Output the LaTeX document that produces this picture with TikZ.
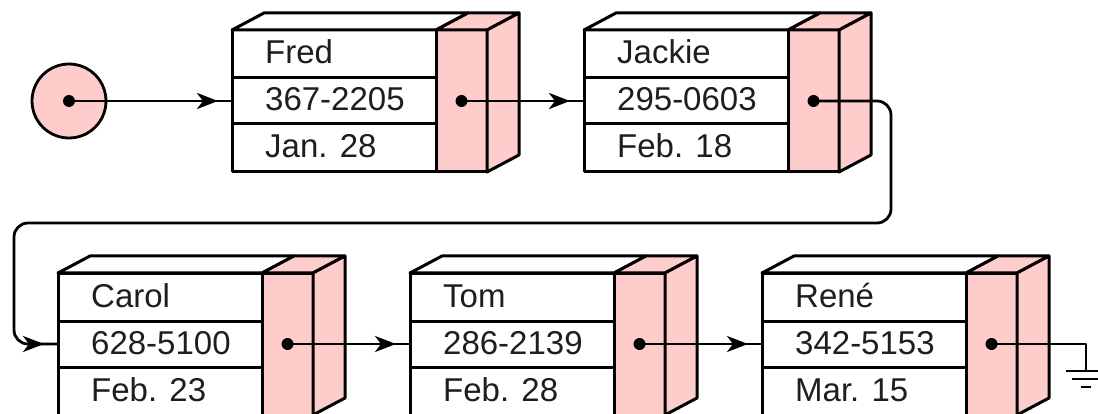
\documentclass[tikz,border=0pt]{standalone}
\usepackage{fontspec}
\setmainfont{Liberation Sans}
\usetikzlibrary{arrows.meta,decorations.markings}
\definecolor{cellpink}{RGB}{255,204,204}
\definecolor{ink}{RGB}{30,30,30}
\tikzset{
  face/.style={draw, line width=3pt, line join=round},
  whitecell/.style={face, fill=white, minimum width=204pt, minimum height=142pt, inner sep=0pt, outer sep=0pt},
  pinkcell/.style={face, fill=cellpink, minimum width=51pt, minimum height=142pt, inner sep=0pt, outer sep=0pt},
  field/.style={anchor=base west, inner sep=0pt, text=ink, font=\fontsize{33pt}{36pt}\selectfont},
  dot/.style={circle, fill=black, inner sep=0pt, minimum size=12pt},
  wire/.style={line width=2.8pt, line join=round},
  link/.style={wire, postaction={decorate},
    decoration={markings, mark=at position -14pt with {\arrow{Stealth[length=21pt,width=16pt,inset=6pt]}}}}
}
% one record: name, x, top y, name field, phone field, date field
\newcommand\record[6]{%
  \node[whitecell, anchor=north west] (#1) at (#2,#3) {};
  \node[pinkcell, anchor=north west] (#1p) at (#1.north east) {};
  \filldraw[face, fill=white] (#1.north west) -- ++(32,-17) -- ++(204,0) -- (#1.north east) -- cycle;
  \filldraw[face, fill=cellpink] (#1.north east) -- ++(32,-17) -- ++(51,0) -- (#1p.north east) -- cycle;
  \filldraw[face, fill=cellpink] (#1p.north east) -- ++(32,-17) -- ++(0,142) -- (#1p.south east) -- cycle;
  \draw[face] ([yshift=-48pt]#1.north west) -- ([yshift=-48pt]#1.north east);
  \draw[face] ([yshift=-94pt]#1.north west) -- ([yshift=-94pt]#1.north east);
  \node[field] at ([xshift=33pt,yshift=-34pt]#1.north west) {#4};
  \node[field] at ([xshift=33pt,yshift=-81pt]#1.north west) {#5};
  \node[field] at ([xshift=33pt,yshift=-128pt]#1.north west) {#6};
  \node[dot] (#1d) at (#1p.center) {};
}
\begin{document}
\begin{tikzpicture}[x=1pt, y=-1pt]
  \useasboundingbox (0,0) rectangle (1098,414);
  \clip (0,0) rectangle (1098,414);

  % list head
  \node[draw, circle, fill=cellpink, line width=2.8pt, minimum size=74pt, inner sep=0pt] (head) at (69,101) {};
  \node[dot] (headd) at (head.center) {};

  % records
  \record{fred}{232}{30}{Fred}{367-2205}{Jan. 28}
  \record{jackie}{584}{30}{Jackie}{295-0603}{Feb. 18}
  \record{carol}{58}{273}{Carol}{628-5100}{Feb. 23}
  \record{tom}{410}{273}{Tom}{286-2139}{Feb. 28}
  \record{rene}{762}{273}{René}{342-5153}{Mar. 15}

  % links
  \draw[link] (headd.center) -- (fred.west);
  \draw[link] (fredd.center) -- (jackie.west);
  \coordinate (wrapR) at (891,223);
  \coordinate (wrapL) at (14,344);
  \draw[link, rounded corners=14pt] (jackied.center) -| (wrapR) -| (wrapL) -- (carol.west);
  \draw[link] (carold.center) -- (tom.west);
  \draw[link] (tomd.center) -- (rene.west);

  % null pointer: ground symbol
  \coordinate (gnd) at (1086,371);
  \draw[wire] (rened.center) -| (gnd);
  \draw[wire] ([xshift=-20pt]gnd) -- ([xshift=20pt]gnd);
  \draw[wire] ([xshift=-14pt,yshift=-8pt]gnd) -- ([xshift=14pt,yshift=-8pt]gnd);
  \draw[wire] ([xshift=-5pt,yshift=-16pt]gnd) -- ([xshift=5pt,yshift=-16pt]gnd);
\end{tikzpicture}
\end{document}
